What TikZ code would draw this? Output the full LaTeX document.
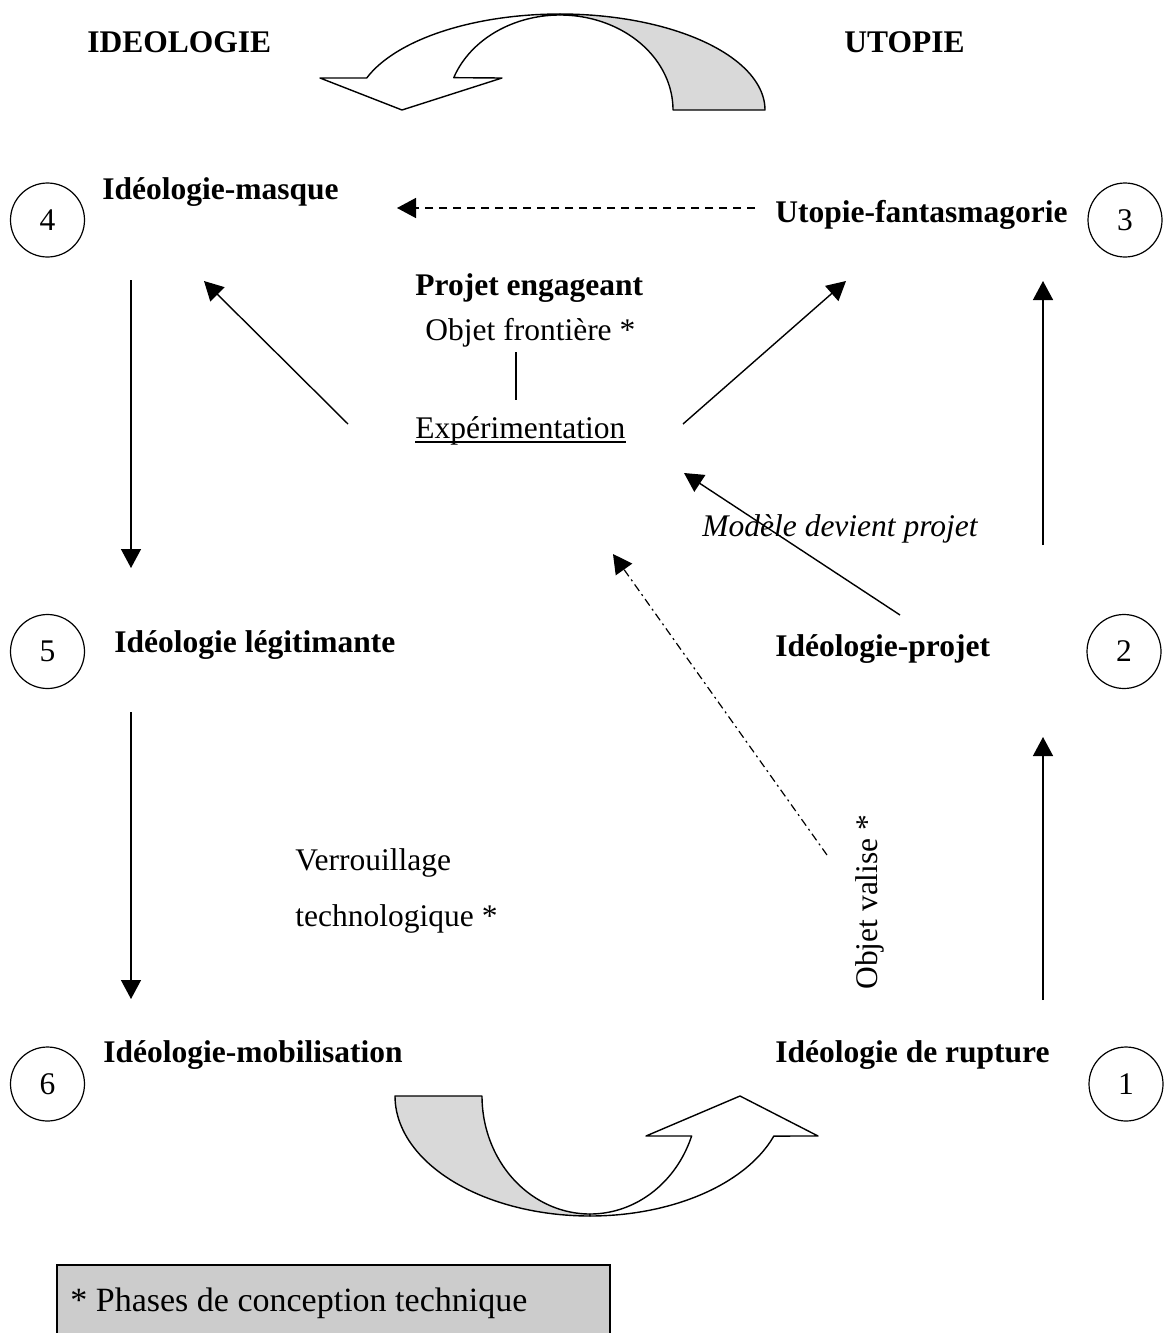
\documentclass[tikz,border=0pt]{standalone}
\usepackage{fontspec}
\setmainfont{Liberation Serif}
\usetikzlibrary{arrows.meta}
\definecolor{ribbongray}{RGB}{217,217,217}
\definecolor{legendgray}{RGB}{204,204,204}
\begin{document}
\begin{tikzpicture}[x=0.5pt,y=-0.5pt,
  every node/.style={font=\fontsize{15.75}{19}\selectfont, inner sep=0pt},
  lbl/.style={anchor=base west},
  blbl/.style={anchor=base west, font=\fontsize{15.75}{19}\selectfont\bfseries},
  numcirc/.style={draw, circle, line width=0.6pt, minimum size=37pt},
  arr/.style={line width=0.7pt, -{Triangle[length=9.5pt,width=10pt]}},
  dasharr/.style={arr, dash pattern=on 4pt off 3pt},
  dotarr/.style={line width=0.6pt, -{Triangle[length=9.5pt,width=10pt]}, dash pattern=on 4pt off 2pt on 1pt off 2pt},
  ribbon/.style={line width=0.7pt, draw=black, line join=round}]
\clip (0,0) rectangle (1167,1333);
\useasboundingbox (0,0) rectangle (1167,1333);

% headings
\node[blbl] (hideo) at (87,52) {IDEOLOGIE};
\node[blbl] (hutop) at (844,52) {UTOPIE};

% top curved arrow
\filldraw[ribbon, fill=ribbongray]
  plot[domain=0:90, samples=50] ({560+205*cos(\x)},{110-96*sin(\x)})
  -- plot[domain=90:0, samples=50] ({560+113*cos(\x)},{110-95*sin(\x)}) -- cycle;
\filldraw[ribbon, fill=white]
  plot[domain=90:160.5, samples=50] ({560+205*cos(\x)},{110-96*sin(\x)})
  -- (320,78) -- (402,110) -- (502,78)
  -- plot[domain=160.1:90, samples=50] ({560+113*cos(\x)},{110-95*sin(\x)}) -- cycle;

% bottom curved arrow
\filldraw[ribbon, fill=ribbongray]
  plot[domain=0:90, samples=50] ({590-195*cos(\x)},{1096+120*sin(\x)})
  -- plot[domain=90:0, samples=50] ({590-108*cos(\x)},{1096+118*sin(\x)}) -- cycle;
\filldraw[ribbon, fill=white]
  plot[domain=90:160.5, samples=50] ({590-195*cos(\x)},{1096+120*sin(\x)})
  -- (818,1136) -- (740,1096) -- (646,1136)
  -- plot[domain=160.2:90, samples=50] ({590-108*cos(\x)},{1096+118*sin(\x)}) -- cycle;

% circles
\node[numcirc] (c4) at (47.5,220) {4};
\node[numcirc] (c3) at (1125,220) {3};
\node[numcirc] (c5) at (47.5,651.5) {5};
\node[numcirc] (c2) at (1124,651.5) {2};
\node[numcirc] (c6) at (47.5,1084) {6};
\node[numcirc] (c1) at (1126,1084) {1};

% main labels
\node[blbl] (masque) at (102,199) {Idéologie-masque};
\node[blbl] (fantas) at (775,222) {Utopie-fantasmagorie};
\node[blbl] (projeng) at (415,295) {Projet engageant};
\node[lbl] (objfront) at (425,340) {Objet frontière *};
\node[lbl] (expe) at (415,438) {Expérimentation};
\node[lbl, font=\fontsize{15.75}{19}\selectfont\itshape] (modele) at (702,536) {Modèle devient projet};
\node[blbl] (legit) at (114,652) {Idéologie légitimante};
\node[blbl] (projet) at (775,656) {Idéologie-projet};
\node[lbl] (verr) at (295,870) {Verrouillage};
\node[lbl] (techno) at (295,926) {technologique *};
\node[lbl, rotate=90] (valise) at (877,990) {Objet valise *};
\node[blbl] (mobil) at (103,1062) {Idéologie-mobilisation};
\node[blbl] (rupture) at (775,1062) {Idéologie de rupture};

% underline of Expérimentation
\draw[line width=0.6pt] ([yshift=-2pt]expe.base west) -- ([yshift=-2pt]expe.base east);

% connector end points
\coordinate (a1s) at (755,208);  \coordinate (a1e) at (397,208);
\coordinate (a2s) at (348,424);  \coordinate (a2e) at (204,281);
\coordinate (a3s) at (683,424);  \coordinate (a3e) at (846,281);
\coordinate (a4s) at (131,280);  \coordinate (a4e) at (131,568);
\coordinate (a5s) at (131,712);  \coordinate (a5e) at (131,999);
\coordinate (a6s) at (1043,545); \coordinate (a6e) at (1043,281);
\coordinate (a7s) at (1043,1000);\coordinate (a7e) at (1043,737);
\coordinate (a8s) at (900,615);  \coordinate (a8e) at (684,473);
\coordinate (a9s) at (827,855);  \coordinate (a9e) at (613,554);
\coordinate (v1) at (516,352);   \coordinate (v2) at (516,400);

\draw[dasharr] (a1s) -- (a1e);
\draw[arr] (a2s) -- (a2e);
\draw[arr] (a3s) -- (a3e);
\draw[arr] (a4s) -- (a4e);
\draw[arr] (a5s) -- (a5e);
\draw[arr] (a6s) -- (a6e);
\draw[arr] (a7s) -- (a7e);
\draw[arr] (a8s) -- (a8e);
\draw[dotarr] (a9s) -- (a9e);
\draw[line width=0.6pt] (v1) -- (v2);

% legend
\filldraw[line width=0.6pt, fill=legendgray] (57,1265) rectangle (610,1350);
\node[lbl, font=\fontsize{17}{20}\selectfont] (legend) at (70,1311) {* Phases de conception technique};
\end{tikzpicture}
\end{document}
